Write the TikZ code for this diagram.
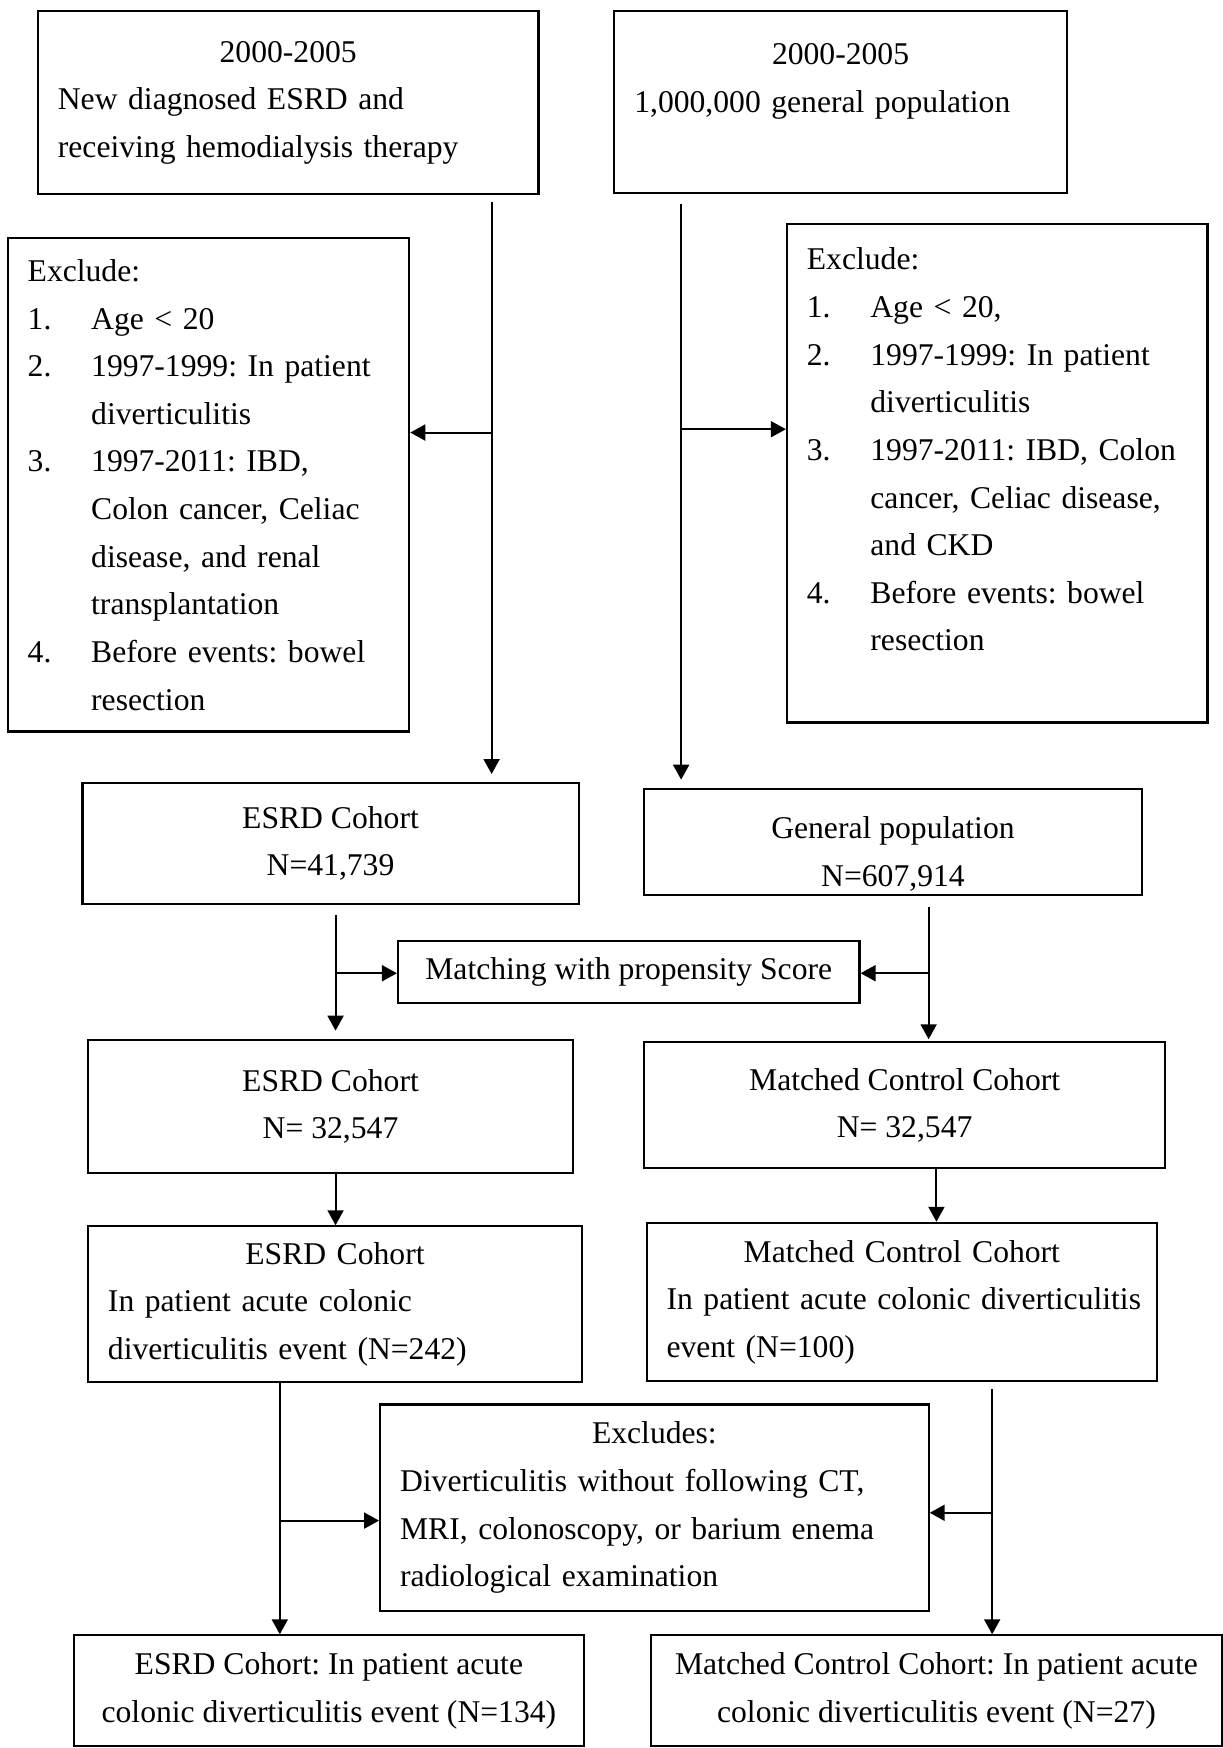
\documentclass[tikz,border=0pt]{standalone}
\usepackage{fontspec}
\setmainfont{Liberation Serif}
\usetikzlibrary{arrows.meta}
\frenchspacing
\newcommand{\nb}[1]{\makebox[1.27cm][l]{#1}}
\newcommand{\ind}{\hspace*{1.27cm}}
\newcommand{\ctr}[1]{\makebox[\linewidth]{#1}}
\begin{document}
\begin{tikzpicture}[x=0.0223cm, y=-0.0223cm, line width=1.1pt,
  box/.style={draw, rectangle, line width=1.2pt, inner xsep=0.4cm, inner ysep=0pt, font=\fontsize{18}{27.1}\selectfont},
  >={Triangle[length=0.3cm, width=0.32cm]}]
\useasboundingbox (0,0) rectangle (1097,1568);
\node[box, align=left, text width=9.21cm, minimum height=3.66cm] (a) at (258.5,92) {\ctr{2000-2005}\\New diagnosed ESRD and\\receiving hemodialysis therapy};
\node[box, align=left, text width=8.25cm, minimum height=3.63cm] (b) at (754,91.5) {\ctr{2000-2005}\\1,000,000 general population\\\mbox{}};
\node[box, align=left, text width=7.23cm, minimum height=9.86cm] (xl) at (187,435) {Exclude:\\\nb{1.}Age < 20\\\nb{2.}1997-1999: In patient\\\ind diverticulitis\\\nb{3.}1997-2011: IBD,\\\ind Colon cancer, Celiac\\\ind disease, and renal\\\ind transplantation\\\nb{4.}Before events: bowel\\\ind resection};
\node[box, align=left, text width=7.61cm, minimum height=9.97cm] (xr) at (894.5,424.5) {Exclude:\\\nb{1.}Age < 20,\\\nb{2.}1997-1999: In patient\\\ind diverticulitis\\\nb{3.}1997-2011: IBD, Colon\\\ind cancer, Celiac disease,\\\ind and CKD\\\nb{4.}Before events: bowel\\\ind resection\\\mbox{}};
\node[box, align=center, minimum width=9.92cm, minimum height=2.43cm] (c) at (296.5,756.5) {ESRD Cohort\\N=41,739};
\node[box, align=center, minimum width=9.95cm, minimum height=2.12cm] (d) at (801,755.5) {\rule{0pt}{0.9cm}General population\\N=607,914};
\node[box, align=center, minimum width=9.23cm, minimum height=1.25cm] (m) at (564,872) {Matching with propensity Score};
\node[box, align=center, minimum width=9.70cm, minimum height=2.65cm] (e) at (296.5,992.5) {ESRD Cohort\\N= 32,547};
\node[box, align=center, minimum width=10.41cm, minimum height=2.52cm] (f) at (811.5,991.5) {Matched Control Cohort\\N= 32,547};
\node[box, align=left, text width=9.08cm, minimum height=3.12cm] (g) at (300.5,1170) {\ctr{ESRD Cohort}\\In patient acute colonic\\diverticulitis event (N=242)};
\node[box, align=left, text width=9.41cm, minimum height=3.17cm] (h) at (809,1168) {\ctr{Matched Control Cohort}\\\mbox{In patient acute colonic diverticulitis}\\event (N=100)};
\node[box, align=left, text width=10.17cm, minimum height=4.13cm] (x) at (587,1352.5) {\ctr{Excludes:}\\Diverticulitis without following CT,\\MRI, colonoscopy, or barium enema\\radiological examination};
\node[box, align=center, minimum width=10.21cm, minimum height=2.21cm] (i) at (295,1516.5) {ESRD Cohort: In patient acute\\colonic diverticulitis event (N=134)};
\node[box, align=center, minimum width=11.42cm, minimum height=2.21cm] (j) at (840,1516.5) {Matched Control Cohort: In patient acute\\colonic diverticulitis event (N=27)};
\coordinate (p1) at (441,388);
\coordinate (p2) at (611,385);
\coordinate (p3) at (301,873);
\coordinate (p4) at (833,873);
\coordinate (p5) at (840,1070);
\coordinate (p6) at (251,1364);
\coordinate (p7) at (890,1357);
\draw[->, shorten <=0.13cm, shorten >=0.15cm] (a.south -| p1) -- (c.north -| p1);
\draw[->] (p1) -- (p1 -| xl.east);
\draw[->, shorten <=0.2cm, shorten >=0.17cm] (b.south -| p2) -- (d.north -| p2);
\draw[->] (p2) -- (p2 -| xr.west);
\draw[->, shorten <=0.2cm, shorten >=0.17cm] (c.south -| p3) -- (e.north -| p3);
\draw[->] (p3) -- (p3 -| m.west);
\draw[->, shorten <=0.22cm, shorten >=0.04cm] (d.south -| p4) -- (f.north -| p4);
\draw[->] (p4) -- (p4 -| m.east);
\draw[->] (e.south -| p3) -- (g.north -| p3);
\draw[->] (f.south -| p5) -- (h.north -| p5);
\draw[->] (g.south -| p6) -- (i.north -| p6);
\draw[->] (p6) -- (p6 -| x.west);
\draw[->, shorten <=0.13cm] (h.south -| p7) -- (j.north -| p7);
\draw[->] (p7) -- (p7 -| x.east);
\end{tikzpicture}
\end{document}
